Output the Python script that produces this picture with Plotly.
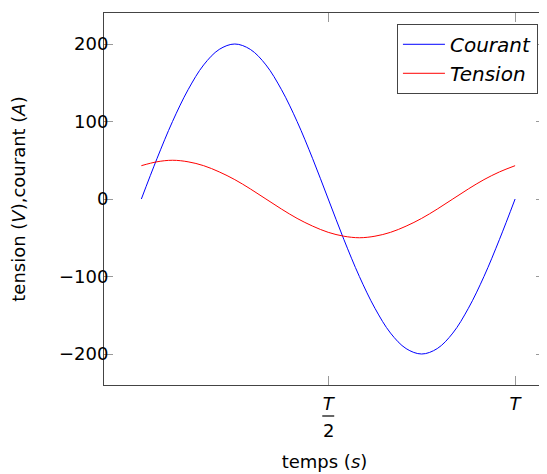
import plotly.graph_objects as go

# time in fractions of the period T
t = [0, 1/24, 2/24, 3/24, 4/24, 5/24, 6/24, 7/24, 8/24, 9/24, 10/24, 11/24, 12/24,
     13/24, 14/24, 15/24, 16/24, 17/24, 18/24, 19/24, 20/24, 21/24, 22/24, 23/24, 1]
courant = [0, 52, 100, 141, 173, 193, 200, 193, 173, 141, 100, 52, 0,
           -52, -100, -141, -173, -193, -200, -193, -173, -141, -100, -52, 0]
tension = [43, 48, 50, 48, 43, 35, 25, 13, 0, -13, -25, -35, -43,
           -48, -50, -48, -43, -35, -25, -13, 0, 13, 25, 35, 43]

y_ticks = [-200, -100, 0, 100, 200]
x_ticks = [0.5, 1]
x_ticktext = ["<i>T</i>", "<i>T</i>"]

FONT = "DejaVu Sans"

fig = go.Figure()
fig.add_trace(go.Scatter(x=t, y=courant, mode="lines", name="<i>Courant</i>",
                         line=dict(color="#0000ff", width=1, shape="spline"),
                         legendgroup="a"))
fig.add_trace(go.Scatter(x=t, y=tension, mode="lines", name="<i>Tension</i>",
                         line=dict(color="#ff0000", width=1, shape="spline"),
                         legendgroup="b"))

# page body has an 8px default margin, so the figure is 8px smaller
fig.update_layout(
    width=539, height=466,
    margin=dict(l=96, r=2, t=5, b=89, autoexpand=False),
    paper_bgcolor="white", plot_bgcolor="white",
    font=dict(family=FONT, size=18, color="black"),
    showlegend=True,
    legend=dict(x=0.984, y=0.971, xanchor="right", yanchor="top",
                bordercolor="#444", borderwidth=1, bgcolor="white",
                font=dict(size=20), tracegroupgap=0, itemwidth=42),
)
fig.update_xaxes(range=[-0.1, 1.08], tickvals=x_ticks, ticktext=x_ticktext,
                 showgrid=False, zeroline=False, showline=True, linecolor="#444",
                 linewidth=1, mirror="allticks", ticks="inside", ticklen=9,
                 tickcolor="#999", tickfont=dict(size=18), automargin=False,
                 ticklabelstandoff=2,
                 title=dict(text="temps (<i>s</i>)", font=dict(size=18), standoff=42))
fig.update_yaxes(range=[-240, 240], tickvals=y_ticks,
                 showgrid=False, zeroline=False, showline=True, linecolor="#444",
                 linewidth=1, mirror="allticks", ticks="inside", ticklen=9,
                 tickcolor="#999", tickfont=dict(size=18), automargin=False,
                 ticklabelstandoff=-9,
                 title=dict(text="tension (<i>V</i>),courant (<i>A</i>)", font=dict(size=18),
                            standoff=32))

# denominator "2" of the T/2 tick label, with its fraction bar
fig.add_annotation(x=0.5, xref="x", y=0, yref="paper", yshift=-45, yanchor="middle",
                   text="2", showarrow=False, font=dict(size=18))
fig.add_shape(type="line", xref="x", yref="paper", ysizemode="pixel", yanchor=0,
              x0=0.5 - 0.016, x1=0.5 + 0.016, y0=-31, y1=-31,
              line=dict(color="black", width=1.2))

fig.write_html("out.html")
